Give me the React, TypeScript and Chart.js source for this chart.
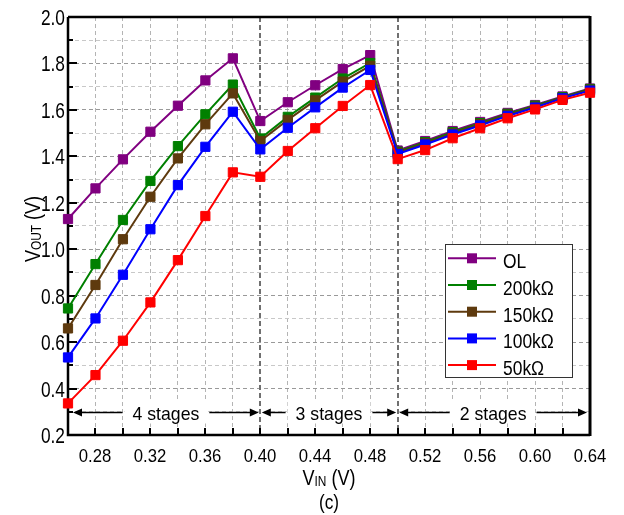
import React, { useEffect, useRef } from "react";
import { Chart, registerables } from "chart.js";

Chart.register(...registerables);

// ---------- data ----------
const VIN = [0.26, 0.28, 0.30, 0.32, 0.34, 0.36, 0.38, 0.40, 0.42, 0.44, 0.46, 0.48, 0.50, 0.52, 0.54, 0.56, 0.58, 0.60, 0.62, 0.64];
const OL = [1.130, 1.262, 1.387, 1.506, 1.618, 1.727, 1.822, 1.552, 1.633, 1.706, 1.776, 1.836, 1.425, 1.466, 1.509, 1.548, 1.587, 1.621, 1.658, 1.692];
const R200K = [0.745, 0.936, 1.126, 1.294, 1.444, 1.581, 1.709, 1.477, 1.570, 1.653, 1.735, 1.802, 1.420, 1.461, 1.504, 1.543, 1.583, 1.618, 1.655, 1.690];
const R150K = [0.659, 0.846, 1.043, 1.226, 1.391, 1.538, 1.671, 1.466, 1.557, 1.641, 1.722, 1.790, 1.416, 1.457, 1.499, 1.539, 1.579, 1.614, 1.652, 1.687];
const R100K = [0.534, 0.702, 0.890, 1.086, 1.276, 1.441, 1.592, 1.430, 1.523, 1.611, 1.696, 1.772, 1.410, 1.451, 1.494, 1.533, 1.574, 1.610, 1.650, 1.683];
const R50K = [0.336, 0.458, 0.606, 0.771, 0.953, 1.143, 1.331, 1.312, 1.423, 1.521, 1.617, 1.707, 1.388, 1.427, 1.478, 1.521, 1.564, 1.602, 1.643, 1.674];

const SERIES_LABELS = ["OL", "200kΩ", "150kΩ", "100kΩ", "50kΩ"];
const SERIES_COLORS = ["#800080", "#008000", "#5E3A0E", "#0000FF", "#FF0000"];

const X_TICK_LABELS = ["0.28", "0.32", "0.36", "0.40", "0.44", "0.48", "0.52", "0.56", "0.60", "0.64"];
const Y_GRID = [0.2, 0.3, 0.4, 0.5, 0.6, 0.7, 0.8, 0.9, 1.0, 1.1, 1.2, 1.3, 1.4, 1.5, 1.6, 1.7, 1.8, 1.9, 2.0];
const Y_TICK_LABELS = ["0.2", "0.4", "0.6", "0.8", "1.0", "1.2", "1.4", "1.6", "1.8", "2.0"];

const STAGE_BOUNDS = [0.26, 0.40, 0.50, 0.64];
const STAGE_LABELS = ["4 stages", "3 stages", "2 stages"];
const STAGE_ARROW_Y = 0.3;

const FONT = "'Liberation Sans', Arial, sans-serif";

function xLabel(v: number): string {
  const s = v.toFixed(2);
  return X_TICK_LABELS.includes(s) ? s : "";
}
function yLabel(v: number): string {
  const s = v.toFixed(1);
  return Y_TICK_LABELS.includes(s) ? s : "";
}

// draws horizontally condensed text; returns its drawn width
function txt(
  ctx: CanvasRenderingContext2D,
  s: string,
  x: number,
  y: number,
  size: number,
  sx: number,
  align: CanvasTextAlign = "center"
): number {
  ctx.save();
  ctx.translate(x, y);
  ctx.scale(sx, 1);
  ctx.font = `${size}px ${FONT}`;
  ctx.textAlign = align;
  ctx.textBaseline = "alphabetic";
  ctx.fillStyle = "#000";
  ctx.fillText(s, 0, 0);
  const w = ctx.measureText(s).width * sx;
  ctx.restore();
  return w;
}
function measure(ctx: CanvasRenderingContext2D, s: string, size: number, sx: number): number {
  ctx.save();
  ctx.font = `${size}px ${FONT}`;
  const w = ctx.measureText(s).width * sx;
  ctx.restore();
  return w;
}

const decorPlugin = {
  id: "decor",
  beforeDatasetsDraw(chart: any) {
    const { ctx, chartArea: a, scales } = chart;
    const x = scales.x;
    const y = scales.y;
    ctx.save();
    // stage dividers
    ctx.strokeStyle = "#707070";
    ctx.lineWidth = 2;
    ctx.setLineDash([5, 3]);
    for (const b of [STAGE_BOUNDS[1], STAGE_BOUNDS[2]]) {
      const px = Math.round(x.getPixelForValue(b));
      ctx.beginPath();
      ctx.moveTo(px, a.top);
      ctx.lineTo(px, a.bottom);
      ctx.stroke();
    }
    ctx.setLineDash([]);

    // stage arrows
    const py = Math.round(y.getPixelForValue(STAGE_ARROW_Y)) + 0.5;
    const SS = 19, SX = 0.93;
    ctx.strokeStyle = "#000";
    ctx.lineWidth = 1.5;
    for (let i = 0; i < STAGE_LABELS.length; i++) {
      const x0 = x.getPixelForValue(STAGE_BOUNDS[i]) + (i === 0 ? 5 : 1.5);
      const x1 = x.getPixelForValue(STAGE_BOUNDS[i + 1]) - (i === STAGE_LABELS.length - 1 ? 3 : 1.5);
      const cx = (x0 + x1) / 2;
      const w = measure(ctx, STAGE_LABELS[i], SS, SX);
      ctx.fillStyle = "#fff";
      ctx.fillRect(cx - w / 2 - 8, py - 11, w + 16, 22);
      ctx.fillStyle = "#000";
      ctx.beginPath();
      ctx.moveTo(x0 + 4, py);
      ctx.lineTo(cx - w / 2 - 10, py);
      ctx.moveTo(cx + w / 2 + 10, py);
      ctx.lineTo(x1 - 4, py);
      ctx.stroke();
      ctx.beginPath();
      ctx.moveTo(x0, py);
      ctx.lineTo(x0 + 9, py - 4);
      ctx.lineTo(x0 + 9, py + 4);
      ctx.closePath();
      ctx.fill();
      ctx.beginPath();
      ctx.moveTo(x1, py);
      ctx.lineTo(x1 - 9, py - 4);
      ctx.lineTo(x1 - 9, py + 4);
      ctx.closePath();
      ctx.fill();
      txt(ctx, STAGE_LABELS[i], cx, py + 7, SS, SX, "center");
    }

    // frame
    ctx.strokeStyle = "#000";
    ctx.lineWidth = 2.5;
    ctx.beginPath();
    ctx.moveTo(a.left, a.top);
    ctx.lineTo(a.left, a.bottom);
    ctx.lineTo(a.right, a.bottom);
    ctx.moveTo(a.left, a.top);
    ctx.lineTo(a.right, a.top);
    ctx.stroke();
    ctx.lineWidth = 3;
    ctx.beginPath();
    ctx.moveTo(a.right, a.top - 1);
    ctx.lineTo(a.right, a.bottom + 1);
    ctx.stroke();

    // inward ticks + tick labels
    ctx.lineWidth = 2;
    for (const t of x.ticks) {
      const px = Math.round(x.getPixelForValue(t.value));
      ctx.beginPath();
      ctx.moveTo(px, a.bottom);
      ctx.lineTo(px, a.bottom - 7);
      ctx.stroke();
      const lab = xLabel(t.value);
      if (lab) txt(ctx, lab, px, a.bottom + 27, 19, 0.88, "center");
    }
    for (const t of y.ticks) {
      const p = Math.round(y.getPixelForValue(t.value));
      const lab = yLabel(t.value);
      const len = lab ? 9 : 5;
      ctx.beginPath();
      ctx.moveTo(a.left, p);
      ctx.lineTo(a.left + len, p);
      ctx.stroke();
      if (lab) txt(ctx, lab, a.left - 3, p + 7.7, 21.4, 0.81, "right");
    }
    ctx.restore();
  },
  afterDraw(chart: any) {
    const { ctx, chartArea: a } = chart;
    ctx.save();
    // legend
    const lx = 445, ly = 244, lw = 127, lh = 133;
    ctx.fillStyle = "#fff";
    ctx.fillRect(lx, ly, lw, lh);
    ctx.strokeStyle = "#333";
    ctx.lineWidth = 1;
    ctx.strokeRect(lx + 0.5, ly + 0.5, lw, lh);
    chart.data.datasets.forEach((ds: any, i: number) => {
      const cy = ly + 14.3 + i * 26.7;
      ctx.strokeStyle = ds.borderColor;
      ctx.lineWidth = 2;
      ctx.beginPath();
      ctx.moveTo(lx + 3, cy);
      ctx.lineTo(lx + 51, cy);
      ctx.stroke();
      ctx.fillStyle = ds.backgroundColor;
      ctx.fillRect(lx + 27 - 5, cy - 5, 10, 10);
      txt(ctx, ds.label, lx + 58, cy + 10, 20.5, 0.85, "left");
    });

    // axis titles with subscripts
    const B = 22, S = 14.5, SXB = 0.82;
    const drawSub = (cx: number, base: number, main: string, sub: string, rest: string) => {
      const w1 = measure(ctx, main, B, SXB);
      const w2 = measure(ctx, sub, S, SXB);
      const w3 = measure(ctx, rest, B, SXB);
      let xx = cx - (w1 + w2 + w3) / 2;
      txt(ctx, main, xx, base, B, SXB, "left");
      xx += w1;
      txt(ctx, sub, xx, base + 0.5, S, SXB, "left");
      xx += w2;
      txt(ctx, rest, xx, base, B, SXB, "left");
    };
    const midX = (a.left + a.right) / 2;
    drawSub(midX, 485, "V", "IN", " (V)");
    txt(ctx, "(c)", midX, 508.5, 21, 0.82, "center");

    ctx.save();
    ctx.translate(40, 229);
    ctx.rotate(-Math.PI / 2);
    drawSub(0, 0, "V", "OUT", " (V)");
    ctx.restore();
    ctx.restore();
  },
};

export default function App() {
  const ref = useRef<HTMLCanvasElement | null>(null);
  useEffect(() => {
    if (!ref.current) return;
    const series = [OL, R200K, R150K, R100K, R50K];
    const datasets = series.map((arr, i) => ({
      label: SERIES_LABELS[i],
      data: VIN.map((v, j) => ({ x: v, y: arr[j] })),
      borderColor: SERIES_COLORS[i],
      backgroundColor: SERIES_COLORS[i],
      borderWidth: 2,
      pointStyle: "rect",
      pointRadius: 6.5,
      pointBorderWidth: 1,
      pointBorderColor: SERIES_COLORS[i],
      pointBackgroundColor: SERIES_COLORS[i],
      order: series.length - i,
      clip: false,
      tension: 0,
    }));
    const chart = new Chart(ref.current, {
      type: "line",
      data: { datasets },
      options: {
        responsive: false,
        animation: false,
        events: [],
        layout: { padding: { top: 17, right: 34, left: 0, bottom: 0 } },
        plugins: { legend: { display: false }, tooltip: { enabled: false } },
        scales: {
          x: {
            type: "linear",
            min: 0.26,
            max: 0.64,
            afterBuildTicks: (s: any) => {
              s.ticks = VIN.map((v) => ({ value: v }));
            },
            afterFit: (s: any) => {
              s.height = 80;
            },
            ticks: { display: false, autoSkip: false, maxRotation: 0, minRotation: 0 },
            grid: {
              drawTicks: false,
              lineWidth: 1,
              color: (c: any) => {
                const v = c.tick ? c.tick.value : 0;
                if (Math.abs(v - 0.4) < 1e-6 || Math.abs(v - 0.5) < 1e-6) return "rgba(0,0,0,0)";
                return "#b4b4b4";
              },
            },
            border: { display: false, dash: [4, 3] },
          },
          y: {
            type: "linear",
            min: 0.2,
            max: 2.0,
            afterBuildTicks: (s: any) => {
              s.ticks = Y_GRID.map((v) => ({ value: v }));
            },
            afterFit: (s: any) => {
              s.width = 68;
            },
            ticks: { display: false, autoSkip: false },
            grid: {
              drawTicks: false,
              lineWidth: 1,
              color: (c: any) => {
                const v = c.tick ? c.tick.value : 0;
                return yLabel(v) ? "#999999" : "#c8c8c8";
              },
            },
            border: { display: false, dash: [4, 3] },
          },
        },
      },
      plugins: [decorPlugin],
    } as any);
    return () => chart.destroy();
  }, []);
  return (
    <div style={{ position: "absolute", left: 0, top: 0, width: 624, height: 515, background: "#fff" }}>
      <canvas ref={ref} width={624} height={515} style={{ display: "block" }} />
    </div>
  );
}
